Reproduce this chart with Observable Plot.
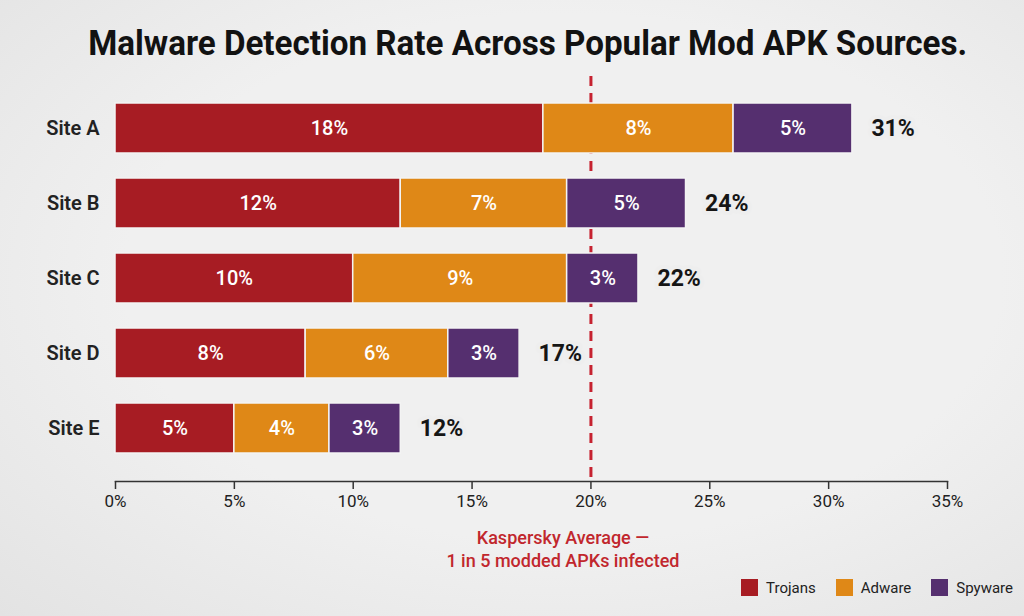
<!DOCTYPE html>
<html>
<head>
<meta charset="utf-8">
<script src="https://cdn.jsdelivr.net/npm/d3@7"></script>
<script src="https://cdn.jsdelivr.net/npm/@observablehq/plot@0.6"></script>
<style>
  body { margin: 0; background: #ececec; font-family: Roboto, "Noto Sans", sans-serif; }
  #page {
    position: relative; width: 1024px; height: 616px; overflow: hidden;
    background: radial-gradient(ellipse at 55% 45%, #f0f0f0 55%, #e3e3e3 100%);
  }
  #title {
    position: absolute; left: 16px; top: 24px; width: 1024px; text-align: center;
    font-size: 35px; line-height: 40px; font-weight: 700; color: #121212; white-space: nowrap;
  }
  #title span { display: inline-block; transform-origin: center; }
  #chart { position: absolute; left: 0; top: 70px; }
  #legend { position: absolute; right: 11px; top: 571px; }
  .lg-swatches { justify-content: flex-end !important; font-family: Roboto, sans-serif !important; font-size: 15px !important; color: #222 !important; }
  .lg-swatch { margin-right: 20px !important; }
  .lg-swatch:last-child { margin-right: 0 !important; }
  .lg-swatch svg { margin-right: 8px !important; }
</style>
</head>
<body>
<div id="page">
  <div id="title"><span>Malware Detection Rate Across Popular Mod APK Sources.</span></div>
  <div id="chart"></div>
  <div id="legend"></div>
</div>
<script>
// Detection rates (%) by malware type for each download source
const sites = ["Site A", "Site B", "Site C", "Site D", "Site E"];
const types = ["Trojans", "Adware", "Spyware"];
const trojans = [18, 12, 10, 8, 5];
const adware = [8, 7, 9, 6, 4];
const spyware = [5, 5, 3, 3, 3];
const colors = ["#a71c23", "#df8817", "#552f6f"];
const xTicks = [0, 5, 10, 15, 20, 25, 30, 35];
const kasperskyAvg = 20;
const avgNote = ["Kaspersky Average —", "1 in 5 modded APKs infected"];

const series = [trojans, adware, spyware];
const rows = sites.flatMap((site, i) =>
  types.map((type, j) => ({ site, type, value: series[j][i] }))
);
const totals = sites.map((site, i) => ({
  site,
  total: d3.sum(series, s => s[i])
}));

const plot = Plot.plot({
  width: 1024,
  height: 502,
  marginLeft: 115,
  marginRight: 77,
  marginTop: 6,
  marginBottom: 91,
  style: { fontFamily: "Roboto, sans-serif", background: "transparent", overflow: "visible" },
  x: { domain: [0, 35], label: null },
  y: { domain: sites, padding: 0.33, label: null },
  color: { domain: types, range: colors },
  marks: [
    // reference line sits behind the bars
    Plot.ruleX([kasperskyAvg], { stroke: "#c62230", strokeWidth: 3, strokeDasharray: "10,7" }),
    Plot.barX(rows, Plot.stackX({
      x: "value", y: "site", fill: "type", z: "type", order: types,
      stroke: "#f3f3f3", strokeWidth: 1.5
    })),
    Plot.text(rows, Plot.stackX({
      x: "value", y: "site", z: "type", order: types,
      text: d => d.value + "%", fill: "white", fontSize: 20, fontWeight: 500
    })),
    Plot.text(totals, {
      x: "total", y: "site", text: d => d.total + "%",
      textAnchor: "start", dx: 19, fontSize: 23, fontWeight: 700, fill: "#151515",
      stroke: "#eeeeee", strokeWidth: 8
    }),
    Plot.frame({ anchor: "bottom", stroke: "#333", strokeWidth: 1.5 }),
    Plot.axisX({
      ticks: xTicks, tickFormat: d => d + "%", tickSize: 8, tickPadding: 5,
      fontSize: 17, color: "#222", stroke: "#333", strokeWidth: 1.5, label: null
    }),
    Plot.axisY({ tickSize: 0, tickPadding: 16, fontSize: 20, fontWeight: 600, color: "#222", label: null }),
    Plot.text([avgNote.join("\n")], {
      x: () => kasperskyAvg, frameAnchor: "bottom", lineAnchor: "top",
      dx: -28, dy: 47, lineHeight: 1.25,
      text: d => d, fill: "#c1272d", fontSize: 18, fontWeight: 500
    })
  ]
});
document.getElementById("chart").append(plot);

document.getElementById("legend").append(
  plot.legend("color", { swatchSize: 17, className: "lg" })
);

// Fit the title to its line width
const t = document.querySelector("#title span");
const w = t.getBoundingClientRect().width;
t.style.transform = `scaleX(${879 / w})`;
</script>
</body>
</html>
